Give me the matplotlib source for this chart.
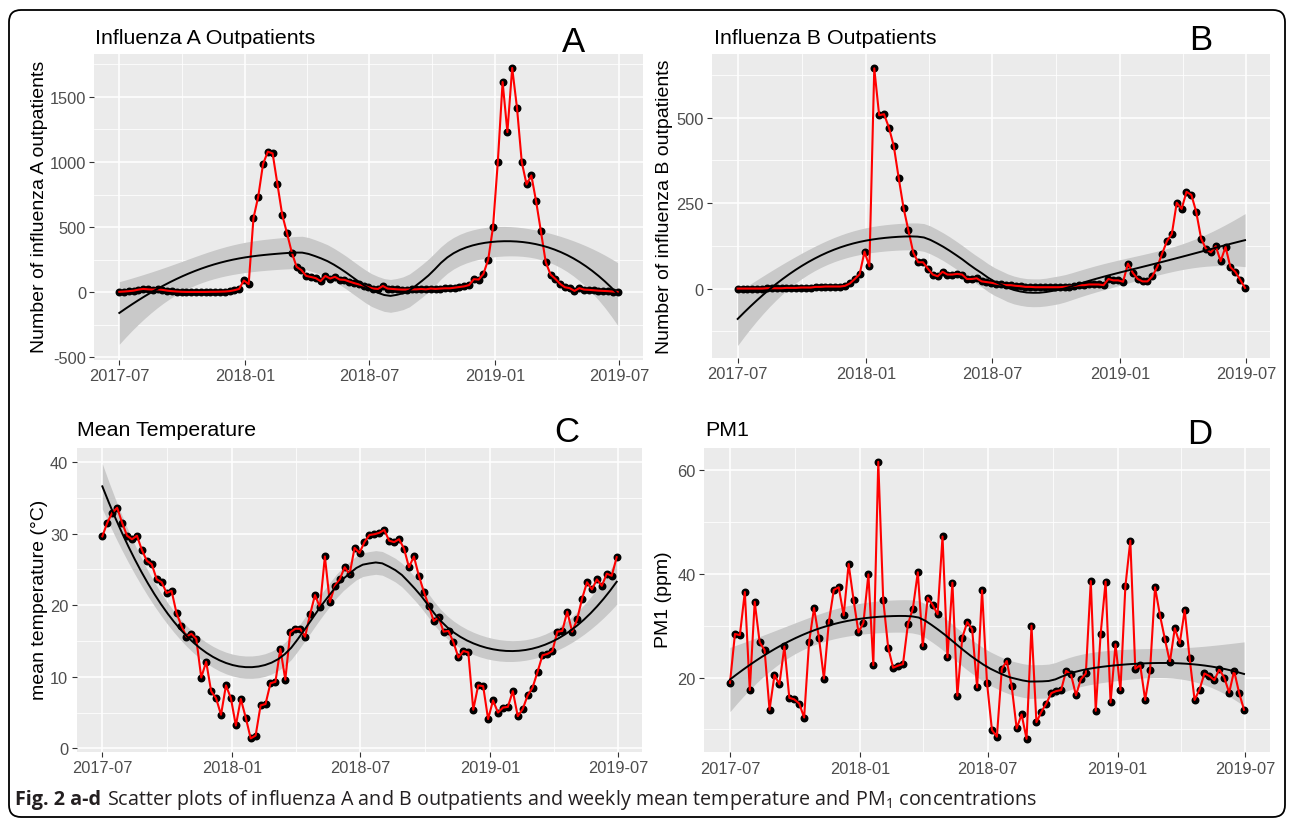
import numpy as np
import pandas as pd
import matplotlib
matplotlib.use("Agg")
import matplotlib.pyplot as plt
import matplotlib.dates as mdates
from matplotlib.patches import FancyBboxPatch
from matplotlib.transforms import IdentityTransform

plt.rcParams['font.family'] = ['Liberation Sans', 'DejaVu Sans']
plt.rcParams['mathtext.fontset'] = 'custom'
plt.rcParams['mathtext.rm'] = 'Open Sans'
plt.rcParams['mathtext.bf'] = 'Open Sans:bold'
plt.rcParams['mathtext.default'] = 'regular'
plt.rcParams['axes.unicode_minus'] = False

# ---------------- data (weekly, 105 weeks from 2017-07-01) ----------------
start_date = '2017-07-01'
n_weeks = 105

flu_a = [3, 5, 8, 12, 20, 25, 22, 20, 22, 18, 12, 8, 5, 3, 2, 2, 2, 2, 2, 3, 3, 4, 5, 8, 15, 25,
         90, 62, 569, 735, 985, 1080, 1066, 830, 595, 453, 305,
         195, 170, 125, 117, 108, 85, 125, 105, 118, 97, 95, 82, 70, 60, 51, 38,
         28, 25, 48, 28, 25, 22, 20, 20, 22, 22, 25, 22, 28, 25, 28, 30, 30, 35, 40, 45, 55,
         100, 97, 141, 251, 500, 1000, 1615, 1230, 1723, 1418, 1000, 828, 897, 697, 467, 231,
         136, 103, 64, 38, 31, 10,
         31, 20, 18, 15, 12, 10, 8, 5, 2]

flu_b = [0, 0, 0, 0, 0, 0, 1, 1, 1, 1, 2, 2, 2, 3, 3, 3, 5, 5, 6, 6, 6, 6, 8,
         15, 28, 42, 108, 65, 644,
         507, 510, 471, 417, 324, 236, 170, 105, 77, 77, 58, 41, 36, 49, 41, 41, 43, 41, 28, 28, 30, 21,
         19, 17, 14, 12, 10, 10, 8, 7, 5, 5, 4, 4, 4, 4, 4, 4, 5, 6, 8, 10, 10, 12, 12, 12, 10,
         28, 24, 24, 20, 73, 46, 28, 21, 21, 36, 63, 102, 139, 160, 251, 233, 283, 274, 224, 146,
         116, 106, 124, 80, 122, 63, 49, 26, 2]

mean_temp = [29.6, 31.5, 32.9, 33.6, 31.5, 29.7, 29.2, 29.7, 27.7, 26.2,
             25.7, 23.6, 23.2, 21.7, 22.0, 18.9, 17.1, 15.6, 16.0, 15.3,
             9.9, 12.1, 8.0, 7.0, 4.7, 8.8, 7.0, 3.2, 6.9, 4.3,
             1.4, 1.8, 6.0, 6.2, 9.1, 9.3, 13.9, 9.6, 16.2, 16.7,
             16.7, 15.6, 18.7, 21.4, 19.7, 26.8, 20.4, 22.7, 23.6, 25.3,
             24.3, 28.0, 27.3, 28.8, 29.8, 29.9, 30.1, 30.5, 29.0, 28.8,
             29.2, 27.9, 25.3, 26.8, 24.1, 21.9, 19.9, 17.8, 18.3, 16.3,
             16.4, 14.8, 12.7, 13.6, 13.4, 5.4, 8.8, 8.7, 4.1, 6.7,
             5.0, 5.7, 5.8, 8.0, 4.5, 5.5, 7.4, 8.5, 10.7, 13.0,
             13.2, 13.6, 16.3, 16.4, 19.1, 16.3, 18.0, 20.9, 23.2, 22.2,
             23.6, 22.7, 24.4, 24.1, 26.7]

pm1 = [19.0, 28.4, 28.2, 36.5, 17.6, 34.6, 26.8, 25.3, 13.8, 20.5,
       18.7, 26.0, 16.1, 15.8, 15.0, 12.3, 26.8, 33.4, 27.7, 19.8,
       30.7, 36.9, 37.4, 32.0, 41.9, 35.0, 28.7, 30.6, 39.9, 22.4,
       61.6, 35.0, 25.8, 21.9, 22.3, 22.6, 30.3, 33.3, 40.3, 26.1,
       35.4, 34.0, 32.2, 47.2, 23.9, 38.3, 16.5, 27.7, 30.7, 29.3,
       18.1, 36.8, 19.0, 9.9, 8.6, 21.7, 23.2, 18.3, 10.2, 12.9,
       8.2, 30.0, 11.4, 13.4, 15.0, 17.0, 17.4, 17.6, 21.3, 20.6,
       16.6, 19.7, 20.8, 38.6, 13.6, 28.5, 38.5, 15.2, 26.4, 17.6,
       37.6, 46.4, 21.7, 22.4, 15.7, 21.5, 37.4, 32.0, 27.4, 23.0,
       29.5, 26.6, 33.0, 23.7, 15.7, 17.7, 20.8, 20.3, 19.5, 21.6,
       20.0, 17.1, 21.3, 17.1, 13.8]

titles = ['Influenza A Outpatients', 'Influenza B Outpatients', 'Mean Temperature', 'PM1']
ylabels = ['Number of influenza A outpatients', 'Number of influenza B outpatients',
           'mean temperature (\u00b0C)', 'PM1 (ppm)']
letters = ['A', 'B', 'C', 'D']
x_tick_fmt = '%Y-%m'
caption_bold = 'Fig. 2 a-d'
caption_rest = (r" Scatter plots of influenza A and B outpatients and weekly mean temperature "
                r"and PM$_1$ concentrations")

# ---------------- helpers ----------------
W, H = 1290, 820


def loess(x, y, span=0.75, n_out=80):
    x = np.asarray(x, float)
    y = np.asarray(y, float)
    n = len(x)
    q = int(np.floor(n * span))

    def row(x0):
        d = np.abs(x - x0)
        h = np.sort(d)[q - 1]
        u = np.clip(d / h, 0, 1)
        w = (1 - u ** 3) ** 3
        X = np.column_stack([np.ones(n), x - x0, (x - x0) ** 2])
        XtW = X.T * w
        return np.linalg.solve(XtW @ X, XtW)[0]

    L = np.array([row(v) for v in x])
    R = np.eye(n) - L
    RR = R.T @ R
    d1 = np.trace(RR)
    d2 = np.trace(RR @ RR)
    sigma = np.sqrt(np.sum((R @ y) ** 2) / d1)
    xs = np.linspace(x.min(), x.max(), n_out)
    Ls = np.array([row(v) for v in xs])
    fit = Ls @ y
    se = sigma * np.sqrt(np.sum(Ls ** 2, axis=1))
    df = d1 ** 2 / d2
    z = 1.959964
    tq = z + (z ** 3 + z) / (4 * df) + (5 * z ** 5 + 16 * z ** 3 + 3 * z) / (96 * df ** 2)
    return xs, fit, fit - tq * se, fit + tq * se


def box(l, t, r, b):
    return [l / W, 1 - b / H, (r - l) / W, (b - t) / H]


dates = pd.date_range(start_date, periods=n_weeks, freq='7D')
xnum = mdates.date2num(dates)
xw = (xnum - xnum[0]) / 7.0
pad_days = 0.05 * (xnum[-1] - xnum[0])

fig = plt.figure(figsize=(W / 100, H / 100), dpi=100)
fig.patch.set_facecolor('white')

panel_boxes = [box(94.4, 55, 642.5, 360.5), box(712.3, 55, 1270.4, 359),
               box(76.6, 449.3, 642.4, 753), box(704.3, 449.3, 1269.7, 753.3)]
ylims = [(-517, 1830), (-203, 686), (-0.5, 41.9), (5.6, 64.2)]
ymajor = [[-500, 0, 500, 1000, 1500], [0, 250, 500], [0, 10, 20, 30, 40], [20, 40, 60]]
yminor = [[-250, 250, 750, 1250, 1750], [-125, 125, 375, 625], [5, 15, 25, 35], [10, 30, 50]]
title_pos = [(95, 38), (714, 38), (77, 431), (705, 431)]
letter_pos = [(573, 42), (1201, 40), (567, 433), (1200, 435)]
ylabel_pos = [(40, 207), (664, 207), (40, 600), (663, 600)]

series = [flu_a, flu_b, mean_temp, pm1]

for i, yv in enumerate(series):
    ax = fig.add_axes(panel_boxes[i])
    ax.set_facecolor('#EBEBEB')
    for s in ax.spines.values():
        s.set_visible(False)
    ax.set_axisbelow(True)
    ax.xaxis.set_major_locator(mdates.MonthLocator(bymonth=[1, 7]))
    ax.xaxis.set_minor_locator(mdates.MonthLocator(bymonth=[4, 10]))
    ax.xaxis.set_major_formatter(mdates.DateFormatter(x_tick_fmt))
    ax.set_yticks(ymajor[i])
    ax.set_yticks(yminor[i], minor=True)
    ax.grid(which='major', color='white', lw=1.1)
    ax.grid(which='minor', color='white', lw=0.55)
    ax.tick_params(which='major', length=3.5, width=0.8, color='#333333',
                   labelcolor='#4D4D4D', labelsize=11.8, pad=2.5)
    ax.tick_params(which='minor', length=0)

    xs, fit, lo, hi = loess(xw, yv)
    xs_num = xnum[0] + xs * 7.0
    ax.fill_between(xs_num, lo, hi, color='#C9C9C9', lw=0, zorder=2)
    ax.plot(xnum, yv, 'o', color='black', ms=4.7, zorder=3)
    ax.plot(xnum, yv, '-', color='#FF0000', lw=1.5, zorder=4)
    ax.plot(xs_num, fit, '-', color='black', lw=1.4, zorder=5)

    ax.set_xlim(xnum[0] - pad_days, xnum[-1] + pad_days)
    ax.set_ylim(*ylims[i])

    tx, ty = title_pos[i]
    fig.text(tx / W, 1 - ty / H, titles[i], fontsize=15.4, ha='left', va='center', color='black')
    lx, ly = letter_pos[i]
    fig.text(lx / W, 1 - ly / H, letters[i], fontsize=25, ha='center', va='center', color='black')
    yx, yy = ylabel_pos[i]
    fig.text(yx / W, 1 - yy / H, ylabels[i], fontsize=14, rotation=90, ha='center', va='center',
             color='black')

# frame
frame = FancyBboxPatch((9, 2), 1276, 807, boxstyle='round,pad=0,rounding_size=12',
                       transform=IdentityTransform(), fill=False, ec='black', lw=1.3,
                       figure=fig)
fig.patches.append(frame)

# caption: bold lead-in followed by regular text, placed one after the other
renderer = fig.canvas.get_renderer()
cap_fs = 13.2
cap_y = 1 - 800 / H
t1 = fig.text(15 / W, cap_y, caption_bold, fontsize=cap_fs, fontweight='bold', ha='left',
              va='baseline', family='Open Sans', color='#231F20')
t1.set_va('center')
bb1 = t1.get_window_extent(renderer)
t2 = fig.text((bb1.x1 + 1) / W, cap_y, caption_rest, fontsize=cap_fs, ha='left', va='center',
              family='Open Sans', color='#231F20')
bb2 = t2.get_window_extent(renderer)
scale = (1040 - 15) / (bb2.x1 - bb1.x0)
cap_fs *= scale
t1.set_fontsize(cap_fs)
bb1 = t1.get_window_extent(renderer)
t2.set_fontsize(cap_fs)
t2.set_x((bb1.x1 + 1) / W)

fig.savefig('out.png', dpi=100)
